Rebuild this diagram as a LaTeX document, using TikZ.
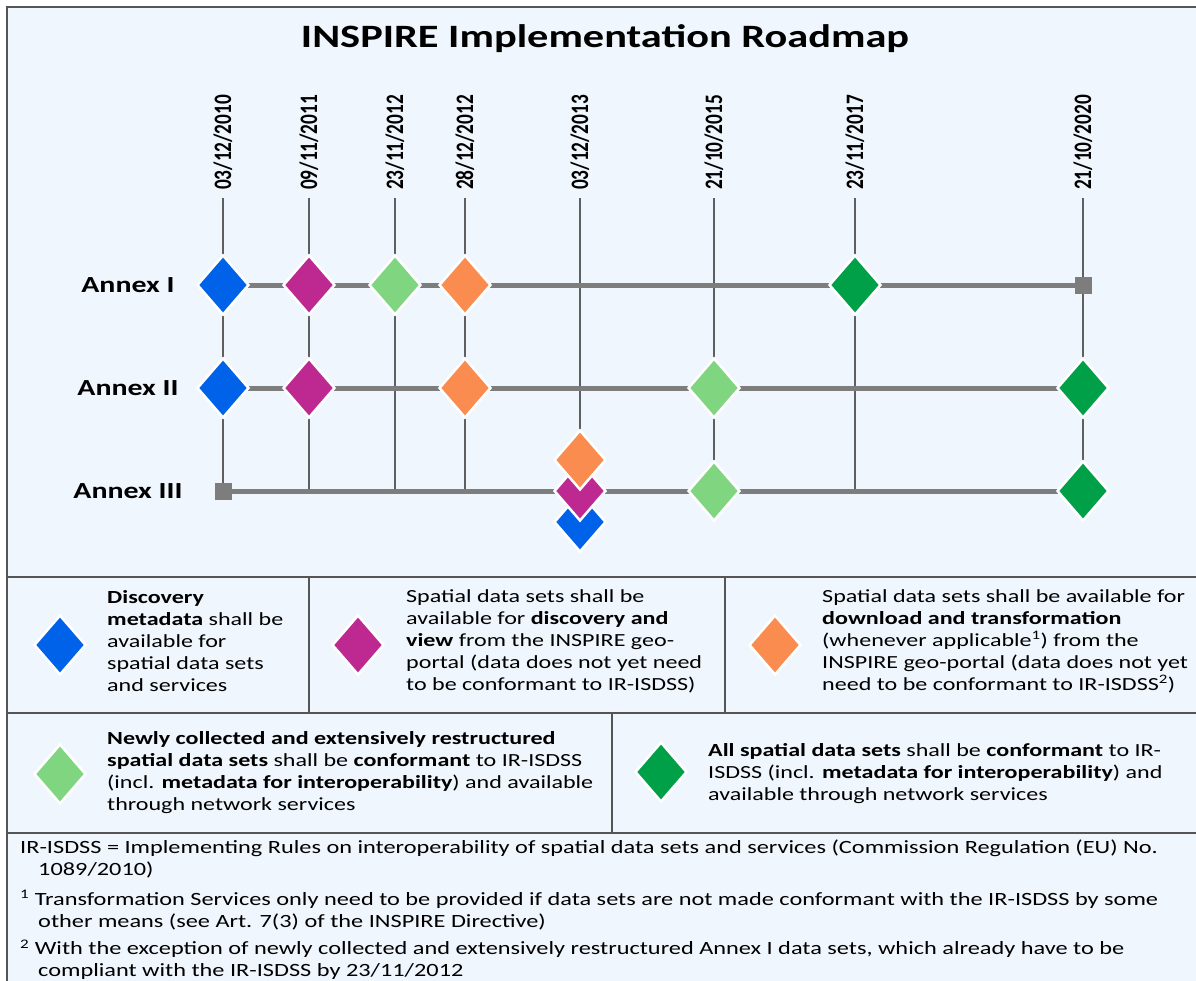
\documentclass[tikz,border=0pt]{standalone}
\usepackage{fontspec}
\setmainfont{Carlito}[FakeStretch=1.3]
\newfontfamily\datefont{Carlito}
\usetikzlibrary{shapes.geometric}

\definecolor{bgblue}{RGB}{240,246,253}
\definecolor{framegray}{RGB}{85,85,85}
\definecolor{railgray}{RGB}{125,125,125}
\definecolor{tickgray}{RGB}{95,95,95}
\definecolor{cblue}{RGB}{0,98,232}
\definecolor{cmag}{RGB}{190,40,145}
\definecolor{clight}{RGB}{128,214,128}
\definecolor{corange}{RGB}{250,140,80}
\definecolor{cdark}{RGB}{0,160,72}

\tikzset{
  gem/.style={diamond, draw=white, line width=2.5pt, inner sep=0pt,
              minimum width=52pt, minimum height=60pt},
  endsq/.style={fill=railgray, minimum size=17pt, inner sep=0pt},
  rail/.style={railgray, line width=5pt},
  tick/.style={tickgray, line width=1.5pt},
  frame/.style={framegray, line width=2.5pt},
  annex/.style={anchor=base, inner sep=0pt, font=\bfseries\fontsize{23}{26}\selectfont},
  datelbl/.style={rotate=90, anchor=base west, inner sep=0pt,
                  font=\datefont\bfseries\fontsize{19.3}{22}\selectfont},
  note/.style={anchor=west, align=left, inner sep=0pt, font=\fontsize{18.5}{22}\selectfont}
}

\begin{document}
\begin{tikzpicture}[x=1pt, y=-1pt]
  \useasboundingbox (0,0) rectangle (1196,980);
  \clip (0,0) rectangle (1196,980);
  \fill[white] (0,0) rectangle (1196,980);
  \draw[frame, fill=bgblue] (7,7) rectangle (1215,1000);

  \node[anchor=base, inner sep=0pt, font=\bfseries\fontsize{32.6}{36}\selectfont] (title) at (605,47)
       {INSPIRE Implementation Roadmap};

  % time columns
  \foreach \n/\x/\dd/\mm/\yy in {a/223/03/12/2010, b/309/09/11/2011, c/395/23/11/2012,
      d/465/28/12/2012, e/580/03/12/2013, f/714/21/10/2015, g/855/23/11/2017, h/1083/21/10/2020}{
    \coordinate (top-\n) at (\x,198);
    \coordinate (r1-\n) at (\x,285);
    \coordinate (r2-\n) at (\x,388);
    \coordinate (r3-\n) at (\x,491);
    \node[datelbl] (date-\n) at (\x+8,190) {\scalebox{1}[1.3]{\dd/\mm/\yy}};
    \draw[tick] (top-\n) -- (r3-\n);
  }
  \foreach \r in {1,2,3}
    \draw[rail] (r\r-a) -- (r\r-h);

  \node[annex] (annex1) at (128,292) {Annex I};
  \node[annex] (annex2) at (128,395) {Annex II};
  \node[annex] (annex3) at (128,498) {Annex III};

  % milestones
  \node[endsq] (end1) at (r1-h) {};
  \node[endsq] (end3) at (r3-a) {};
  \foreach \p/\c in {1-a/cblue, 1-b/cmag, 1-c/clight, 1-d/corange, 1-g/cdark,
      2-a/cblue, 2-b/cmag, 2-d/corange, 2-f/clight, 2-h/cdark, 3-f/clight, 3-h/cdark}
    \node[gem, fill=\c] (gem\p) at (r\p) {};
  \node[gem, fill=cblue] (gem3-e1) at ([yshift=-31pt]r3-e) {};
  \node[gem, fill=cmag] (gem3-e2) at (r3-e) {};
  \node[gem, fill=corange] (gem3-e3) at ([yshift=31pt]r3-e) {};

  % key
  \draw[frame] (7,577) -- (1215,577) (309,577) -- (309,713) (725,577) -- (725,713)
               (7,713) -- (1215,713) (612,713) -- (612,833) (7,833) -- (1215,833);

  \node[gem, fill=cblue] (keyblue) at (60,645) {};
  \node[note] (txtblue) at (107,641) {\textbf{Discovery}\\\textbf{metadata} shall be\\available for\\spatial data sets\\and services};
  \node[gem, fill=cmag] (keymag) at (358,645) {};
  \node[note] (txtmag) at (406,641) {Spatial data sets shall be\\available for \textbf{discovery and}\\\textbf{view} from the INSPIRE geo-\\portal (data does not yet need\\to be conformant to IR-ISDSS)};
  \node[gem, fill=corange] (keyorange) at (775,645) {};
  \node[note] (txtorange) at (822,641) {Spatial data sets shall be available for\\\textbf{download and transformation}\\(whenever applicable\textsuperscript{1}) from the\\INSPIRE geo-portal (data does not yet\\need to be conformant to IR-ISDSS\textsuperscript{2})};
  \node[gem, fill=clight] (keylight) at (60,774) {};
  \node[note] (txtlight) at (107,773) {\textbf{Newly collected and extensively restructured}\\\textbf{spatial data sets} shall be \textbf{conformant} to IR-ISDSS\\(incl. \textbf{metadata for interoperability}) and available\\through network services};
  \node[gem, fill=cdark] (keydark) at (661,772) {};
  \node[note] (txtdark) at (708,774) {\textbf{All spatial data sets} shall be \textbf{conformant} to IR-\\ISDSS (incl. \textbf{metadata for interoperability}) and\\available through network services};

  % footnotes
  \node[note, font=\fontsize{18.7}{22}\selectfont] (fn0) at (20,859) {IR-ISDSS = Implementing Rules on interoperability of spatial data sets and services (Commission Regulation (EU) No.\\\hspace*{18pt}1089/2010)};
  \node[note, font=\fontsize{18.7}{22}\selectfont] (fn1) at (20,910) {\textsuperscript{1} Transformation Services only need to be provided if data sets are not made conformant with the IR-ISDSS by some\\\hspace*{18pt}other means (see Art. 7(3) of the INSPIRE Directive)};
  \node[note, font=\fontsize{18.7}{22}\selectfont] (fn2) at (20,960) {\textsuperscript{2} With the exception of newly collected and extensively restructured Annex I data sets, which already have to be\\\hspace*{18pt}compliant with the IR-ISDSS by 23/11/2012};
\end{tikzpicture}
\end{document}
